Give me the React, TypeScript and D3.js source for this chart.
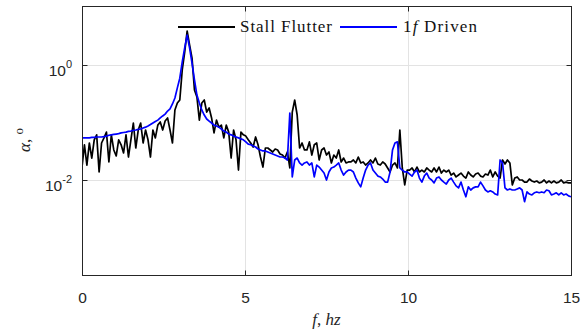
import React from 'react';
import * as d3 from 'd3';

// Sampling step of both spectra (Hz)
const FREQ_STEP = 0.075;

// Stall Flutter spectrum amplitude (deg), f = 0 .. 15 Hz
const stallFlutter = [
  0.0168, 0.041, 0.0182, 0.044, 0.0241, 0.050, 0.061, 0.0138, 0.044, 0.054,
  0.068, 0.0206, 0.061, 0.0333, 0.0262, 0.050, 0.041, 0.0295, 0.061, 0.0251,
  0.050, 0.098, 0.036, 0.074, 0.098, 0.044, 0.074, 0.050, 0.0251, 0.074,
  0.054, 0.090, 0.102, 0.074, 0.106, 0.120, 0.074, 0.044, 0.165, 0.218,
  0.246, 0.82, 1.68, 3.9, 2.23, 1.32, 0.367, 0.278, 0.110, 0.218,
  0.246, 0.152, 0.179, 0.120, 0.066, 0.110, 0.083, 0.090, 0.054, 0.090,
  0.068, 0.0241, 0.074, 0.050, 0.0149, 0.068, 0.061, 0.058, 0.050, 0.044,
  0.0375, 0.056, 0.041, 0.0251, 0.0168, 0.036, 0.036, 0.0333, 0.0307, 0.0346,
  0.0333, 0.0283, 0.0272, 0.0241, 0.0307, 0.0162, 0.152, 0.246, 0.135, 0.036,
  0.044, 0.0333, 0.0333, 0.046, 0.0272, 0.041, 0.044, 0.0223, 0.0333, 0.036,
  0.0272, 0.0307, 0.0198, 0.0272, 0.0241, 0.0333, 0.0206, 0.0241, 0.0198, 0.0206,
  0.0206, 0.0223, 0.0198, 0.0251, 0.0198, 0.0206, 0.0182, 0.0198, 0.0223, 0.0198,
  0.0241, 0.0190, 0.0182, 0.0206, 0.0190, 0.0162, 0.0138, 0.0182, 0.0198, 0.0162,
  0.074, 0.0162, 0.0082, 0.0149, 0.0149, 0.0162, 0.0138, 0.0168, 0.0138, 0.0149,
  0.0138, 0.0162, 0.0149, 0.0138, 0.0162, 0.0138, 0.0168, 0.0132, 0.0149, 0.0138,
  0.0149, 0.0122, 0.0132, 0.0113, 0.0122, 0.0132, 0.0117, 0.0108, 0.0138, 0.0122,
  0.0113, 0.0127, 0.0132, 0.0117, 0.0113, 0.0127, 0.0122, 0.0149, 0.0113, 0.0138,
  0.0117, 0.0108, 0.0223, 0.0190, 0.0223, 0.0198, 0.0082, 0.0108, 0.0113, 0.0100,
  0.0100, 0.0092, 0.0092, 0.0104, 0.0096, 0.0092, 0.0096, 0.0089, 0.0092, 0.0100,
  0.0089, 0.0096, 0.0089, 0.0096, 0.0089, 0.0092, 0.0100, 0.0089, 0.0092, 0.0089,
  0.0089,
];

// 1f Driven spectrum amplitude (deg), f = 0 .. 15 Hz
const driven1f = [
  0.054, 0.054, 0.054, 0.054, 0.055, 0.055, 0.056, 0.056, 0.056, 0.057,
  0.058, 0.060, 0.061, 0.062, 0.063, 0.064, 0.066, 0.067, 0.068, 0.070,
  0.071, 0.073, 0.074, 0.076, 0.077, 0.080, 0.083, 0.087, 0.092, 0.098,
  0.104, 0.110, 0.120, 0.130, 0.140, 0.158, 0.172, 0.210, 0.267, 0.40,
  0.59, 1.13, 1.98, 3.3, 1.98, 1.08, 0.55, 0.30, 0.218, 0.165,
  0.135, 0.115, 0.106, 0.098, 0.090, 0.087, 0.083, 0.077, 0.071, 0.068,
  0.063, 0.061, 0.058, 0.056, 0.054, 0.052, 0.050, 0.046, 0.042, 0.041,
  0.039, 0.0375, 0.0346, 0.0333, 0.0320, 0.0320, 0.0307, 0.0295, 0.0283, 0.0272,
  0.0262, 0.0251, 0.0251, 0.0241, 0.0223, 0.146, 0.0113, 0.0223, 0.0241, 0.0198,
  0.0182, 0.0198, 0.0206, 0.0182, 0.0198, 0.0113, 0.0182, 0.0168, 0.0149, 0.0132,
  0.0100, 0.0138, 0.0162, 0.0168, 0.0182, 0.0198, 0.0149, 0.0122, 0.0138, 0.0149,
  0.0149, 0.0138, 0.0108, 0.0089, 0.0076, 0.0108, 0.0149, 0.0182, 0.0198, 0.0149,
  0.0132, 0.0117, 0.0113, 0.0104, 0.0092, 0.0092, 0.0138, 0.0333, 0.044, 0.046,
  0.0162, 0.0149, 0.0138, 0.0138, 0.0127, 0.0117, 0.0138, 0.0149, 0.0108, 0.0092,
  0.0117, 0.0132, 0.0108, 0.0100, 0.0089, 0.0108, 0.0113, 0.0100, 0.0092, 0.0085,
  0.0100, 0.0108, 0.0092, 0.0079, 0.0073, 0.0092, 0.0067, 0.0051, 0.0076, 0.0067,
  0.0073, 0.0076, 0.0076, 0.0092, 0.0079, 0.0067, 0.0062, 0.0065, 0.0062, 0.0057,
  0.0055, 0.0223, 0.0198, 0.0073, 0.0067, 0.0070, 0.0067, 0.0067, 0.0070, 0.0073,
  0.0067, 0.0042, 0.0062, 0.0057, 0.0055, 0.0060, 0.0062, 0.0060, 0.0062, 0.0060,
  0.0067, 0.0065, 0.0055, 0.0057, 0.0060, 0.0055, 0.0060, 0.0055, 0.0057, 0.0053,
  0.0051,
];

const xTicks = [0, 5, 10, 15];
const yTicks = [1, 0.01];
const yTickExponents = ['0', '-2'];
const seriesNames = ['Stall Flutter', 'Driven'];

export default function App() {
  const W = 582;
  const H = 335;
  const L = 82, R = 571, T = 6, B = 275;
  const x = d3.scaleLinear().domain([0, 15]).range([L, R]);
  const y = d3
    .scaleLog()
    .domain([Math.pow(10, -3.652), Math.pow(10, 1.026)])
    .range([B, T]);
  const line = d3
    .line<number>()
    .x((_, i) => x(i * FREQ_STEP))
    .y((d) => y(d));

  const axisColor = '#262626';
  const gridColor = '#e3e3e3';
  const tickLen = 5;
  const tickFont = '"Liberation Sans", Arial, Helvetica, sans-serif';
  const serif = '"Liberation Serif", "DejaVu Serif", serif';

  return (
    <svg
      width={W}
      height={H}
      style={{ position: 'absolute', left: 0, top: 0, background: '#fff' }}
    >
      <defs>
        <clipPath id="plot">
          <rect x={L} y={T} width={R - L} height={B - T} />
        </clipPath>
      </defs>
      <rect x={0} y={0} width={W} height={H} fill="#fff" />
      {/* grid */}
      {xTicks.slice(1, -1).map((t) => (
        <line
          key={'gx' + t}
          x1={Math.round(x(t)) + 0.5}
          x2={Math.round(x(t)) + 0.5}
          y1={T}
          y2={B}
          stroke={gridColor}
          strokeWidth={1}
        />
      ))}
      {yTicks.map((t) => (
        <line
          key={'gy' + t}
          x1={L}
          x2={R}
          y1={Math.round(y(t)) + 0.5}
          y2={Math.round(y(t)) + 0.5}
          stroke={gridColor}
          strokeWidth={1}
        />
      ))}
      {/* series */}
      <g clipPath="url(#plot)" fill="none" strokeLinejoin="round">
        <path d={line(stallFlutter) || ''} stroke="#000" strokeWidth={1.7} />
        <path d={line(driven1f) || ''} stroke="#0000ff" strokeWidth={1.7} />
      </g>
      {/* axes box */}
      <rect
        x={L + 0.5}
        y={T + 0.5}
        width={R - L}
        height={B - T}
        fill="none"
        stroke={axisColor}
        strokeWidth={1}
      />
      {/* x ticks */}
      {xTicks.map((t) => {
        const px = Math.round(x(t)) + 0.5;
        return (
          <g key={'xt' + t}>
            <line x1={px} x2={px} y1={B + 0.5} y2={B + 0.5 - tickLen} stroke={axisColor} />
            <line x1={px} x2={px} y1={T + 0.5} y2={T + 0.5 + tickLen} stroke={axisColor} />
            <text
              x={px}
              y={303}
              textAnchor="middle"
              fontFamily={tickFont}
              fontSize={15.5}
              fill={axisColor}
            >
              {t}
            </text>
          </g>
        );
      })}
      {/* y ticks */}
      {yTicks.map((t, i) => {
        const py = Math.round(y(t)) + 0.5;
        return (
          <g key={'yt' + t}>
            <line x1={L + 0.5} x2={L + 0.5 + tickLen} y1={py} y2={py} stroke={axisColor} />
            <line x1={R + 0.5} x2={R + 0.5 - tickLen} y1={py} y2={py} stroke={axisColor} />
            <text
              x={72}
              y={py + 10}
              textAnchor="end"
              fontFamily={tickFont}
              fontSize={15.5}
              fill={axisColor}
            >
              10
              <tspan fontSize={11} dy={-8}>
                {yTickExponents[i]}
              </tspan>
            </text>
          </g>
        );
      })}
      {/* x label */}
      <text
        x={(L + R) / 2}
        y={325}
        textAnchor="middle"
        fontFamily={serif}
        fontSize={17}
        fill={axisColor}
      >
        <tspan fontStyle="italic">f</tspan>
        <tspan>, </tspan>
        <tspan fontStyle="italic">hz</tspan>
      </text>
      {/* y label */}
      <text
        transform={`translate(30, 140) rotate(-90)`}
        textAnchor="middle"
        fontFamily={serif}
        fontSize={17}
        fill={axisColor}
      >
        <tspan fontStyle="italic">α</tspan>
        <tspan>, </tspan>
        <tspan fontSize={13} dy={-7}>
          o
        </tspan>
      </text>
      {/* legend */}
      <g>
        <line x1={178} x2={235} y1={27} y2={27} stroke="#000" strokeWidth={2} />
        <text
          x={240}
          y={32}
          fontFamily={serif}
          fontSize={17}
          fill="#111"
          textLength={92}
          lengthAdjust="spacing"
        >
          {seriesNames[0]}
        </text>
        <line x1={340} x2={397} y1={27} y2={27} stroke="#0000ff" strokeWidth={2} />
        <text
          x={403}
          y={32}
          fontFamily={serif}
          fontSize={17}
          fill="#111"
          textLength={74}
          lengthAdjust="spacing"
        >
          1<tspan fontStyle="italic">f</tspan> {seriesNames[1]}
        </text>
      </g>
    </svg>
  );
}
